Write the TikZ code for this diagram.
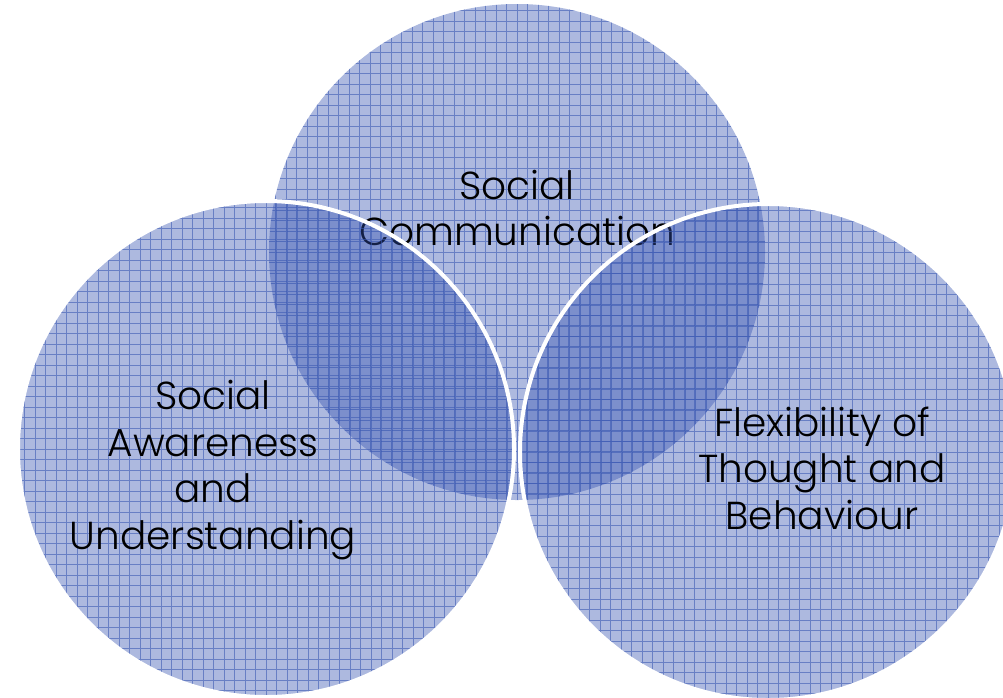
\documentclass[tikz,border=0pt]{standalone}
\usepackage{fontspec}
\setmainfont{Poppins Light}
\usepackage{tikz}
\usetikzlibrary{positioning}

\definecolor{ringBlue}{RGB}{50,80,175}
\definecolor{gridBlue}{RGB}{60,90,180}

\begin{document}
\begin{tikzpicture}[
  x=1pt, y=-1pt,
  ring/.style={circle, minimum size=496pt, inner sep=0pt,
               fill=ringBlue, fill opacity=0.40,
               path picture={\draw[gridBlue, draw opacity=0.6, line width=0.7pt]
                 (path picture bounding box.south west) grid[step=10.5pt]
                 (path picture bounding box.north east);}},
  rim/.style={draw=white, line width=4pt},
  label/.style={align=center, text=black,
                font=\fontsize{39}{46.5}\selectfont},
]
\useasboundingbox (0,0) rectangle (1003,697);
\clip (0,0) rectangle (1003,697);

% back circle first, its text sits under the two front circles
\node[ring] (comm) at (517,252) {};
\node[label] (commText) at (517,208) {Social\\Communication};

% front circles with white rims
\node[ring, rim] (aware) at (266,449) {};
\node[ring, rim] (flex) at (768,452) {};

\node[label] (awareText) at (213,470) {Social\\Awareness\\and\\Understanding};
\node[label] (flexText)  at (822,468) {Flexibility of\\Thought and\\Behaviour};
\end{tikzpicture}
\end{document}
